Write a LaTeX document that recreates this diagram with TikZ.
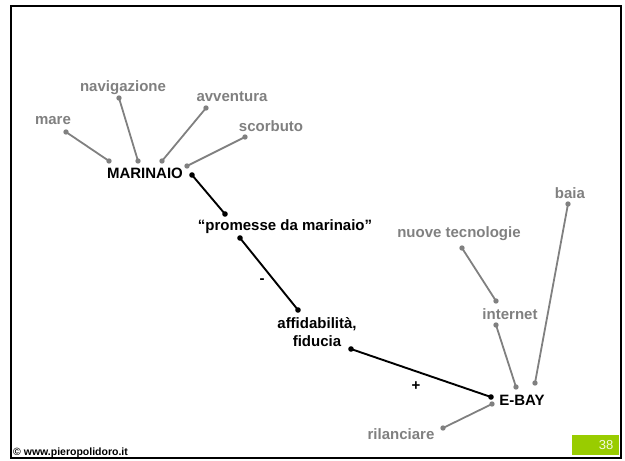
\documentclass[tikz,border=0pt]{standalone}
\usepackage{fontspec}
\setmainfont{Liberation Sans}
\definecolor{gr}{HTML}{808080}
\definecolor{lime}{HTML}{99CC00}
\begin{document}
\begin{tikzpicture}[x=1pt,y=-1pt,
  lbl/.style={font=\fontsize{15}{18}\selectfont\bfseries, inner sep=0pt, align=center},
  gl/.style={lbl, text=gr},
  bl/.style={lbl, text=black},
  glink/.style={draw=gr, line width=1.8pt},
  blink/.style={draw=black, line width=1.9pt}]
\useasboundingbox (0,0) rectangle (625,461);
\draw[line width=2.6pt] (11,6) rectangle (621,458);
% text nodes
\node[gl] (mare) at (53,121) {mare};
\node[gl] (nav) at (123,88) {navigazione};
\node[gl] (avv) at (232,97) {avventura};
\node[gl] (sco) at (271,126) {scorbuto};
\node[bl] (mar) at (145,173) {MARINAIO};
\node[bl] (pro) at (285,227) {“promesse da marinaio”};
\node[bl] (aff) at (317,332) {affidabilità,\\fiducia};
\node[gl] (nuo) at (459,234) {nuove tecnologie};
\node[gl] (int) at (510,314) {internet};
\node[gl] (bai) at (570,193) {baia};
\node[bl] (eba) at (522,400) {E-BAY};
\node[gl] (ril) at (401,434) {rilanciare};
\node[bl] (minus) at (262,281) {-};
\node[bl] (plus) at (416,386) {+};
% connector end points
\coordinate (mare1) at (66,132);  \coordinate (mare2) at (109,161);
\coordinate (nav1) at (119,98);   \coordinate (nav2) at (138,161);
\coordinate (avv1) at (206,108);  \coordinate (avv2) at (162,161);
\coordinate (sco1) at (245,137);  \coordinate (sco2) at (187,166);
\coordinate (mp1) at (192,175);   \coordinate (mp2) at (225,214);
\coordinate (pa1) at (240,238);   \coordinate (pa2) at (298,310);
\coordinate (ae1) at (351,349);   \coordinate (ae2) at (491,397);
\coordinate (nuo1) at (462,248);  \coordinate (nuo2) at (496,301);
\coordinate (int1) at (496,325);  \coordinate (int2) at (516,387);
\coordinate (bai1) at (568,204);  \coordinate (bai2) at (535,383);
\coordinate (ril1) at (443,428);  \coordinate (ril2) at (492,404);
% gray connectors
\foreach \a in {mare,nav,avv,sco,nuo,int,bai,ril}{
  \draw[glink] (\a1) -- (\a2);
  \fill[gr] (\a1) circle (2.7pt);
  \fill[gr] (\a2) circle (2.7pt);
}
% black connectors
\foreach \a in {mp,pa,ae}{
  \draw[blink] (\a1) -- (\a2);
  \fill[black] (\a1) circle (2.8pt);
  \fill[black] (\a2) circle (2.8pt);
}
% footer
\node[anchor=west, inner sep=0pt, font=\fontsize{10.5}{12}\selectfont\bfseries] (foot) at (13,453) {© www.pieropolidoro.it};
\fill[lime] (572,435) rectangle (619,455);
\node[inner sep=0pt, text=white!88!lime, font=\fontsize{13}{15}\selectfont] (num) at (606,445) {38};
\end{tikzpicture}
\end{document}
